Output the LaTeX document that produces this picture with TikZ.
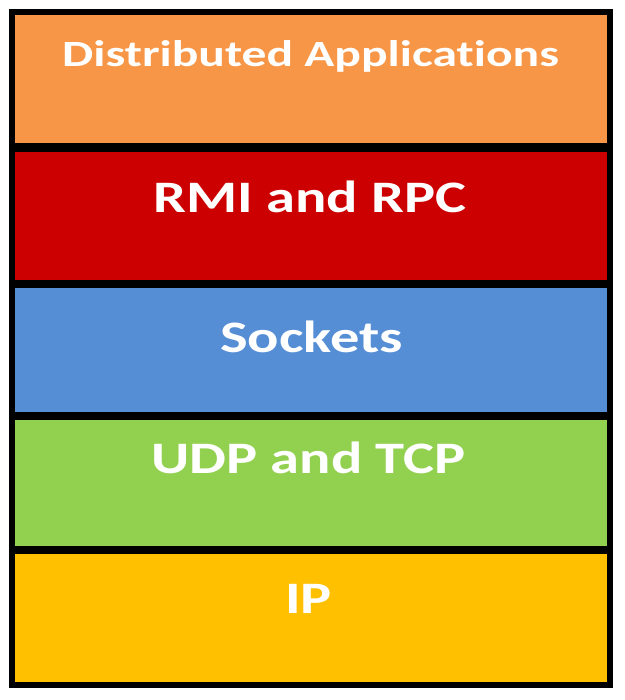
\documentclass[tikz,border=0pt]{standalone}
\usepackage{fontspec}
\setmainfont{Carlito}[Ligatures=NoCommon]
\definecolor{appC}{HTML}{F79646}
\definecolor{rmiC}{HTML}{CC0000}
\definecolor{sockC}{HTML}{558ED5}
\definecolor{udpC}{HTML}{92D050}
\definecolor{ipC}{HTML}{FFC000}
% wide lettering for the layer names
\newcommand\widelabel[2][1.3]{\scalebox{#1}[1]{#2}}
\begin{document}
\begin{tikzpicture}[x=1pt,y=-1pt,
  layer/.style={rectangle, inner sep=0pt, minimum width=597.5pt, draw=none},
  caption/.style={anchor=base, text=white, inner sep=0pt, font=\bfseries\fontsize{45}{50}\selectfont},
  divider/.style={line width=8.5pt, black},
  frame/.style={line width=6pt, black, line join=miter}]
  \useasboundingbox (0,0) rectangle (624,700);
  % the five protocol layers, top to bottom
  \node[layer, fill=appC,  minimum height=135pt]   (app)  at (310.75,80)     {};
  \node[layer, fill=rmiC,  minimum height=136.5pt] (rmi)  at (310.75,215.75) {};
  \node[layer, fill=sockC, minimum height=132pt]   (sock) at (310.75,350)    {};
  \node[layer, fill=udpC,  minimum height=134pt]   (udp)  at (310.75,483)    {};
  \node[layer, fill=ipC,   minimum height=134.5pt] (ip)   at (310.75,617.25) {};
  % layer names
  \node[caption, font=\bfseries\fontsize{37}{42}\selectfont] (tapp) at (310.5,67) {\widelabel[1.34]{Distributed Applications}};
  \node[caption] (trmi)  at (310,213)   {\widelabel{RMI and RPC}};
  \node[caption] (tsock) at (311.5,352) {\widelabel{Sockets}};
  \node[caption] (tudp)  at (308.5,473) {\widelabel{UDP and TCP}};
  \node[caption] (tip)   at (308.5,613) {\widelabel{IP}};
  % dividing lines between neighbouring layers
  \draw[divider] (app.south west) -- (app.south east);
  \draw[divider] (rmi.south west) -- (rmi.south east);
  \draw[divider] (sock.south west) -- (sock.south east);
  \draw[divider] (udp.south west) -- (udp.south east);
  % outer frame around the stack
  \draw[frame] (app.north west) rectangle (ip.south east);
\end{tikzpicture}
\end{document}
